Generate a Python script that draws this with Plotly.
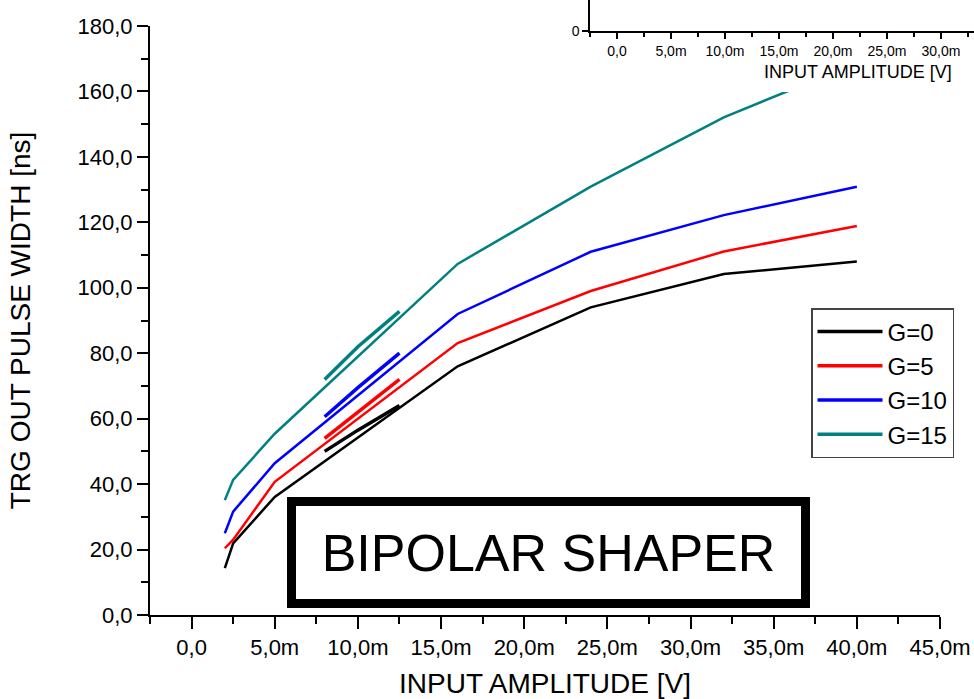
import plotly.graph_objects as go

# Input amplitude (V) of the sweep points
x_main = [0.002, 0.0025, 0.005, 0.016, 0.024, 0.032, 0.040]
x_fine = [0.008, 0.010, 0.0125]

# TRG OUT pulse width (ns) per gain setting
g0_main = [14.3, 21.9, 36.1, 76.0, 94.0, 104.2, 108.0]
g0_fine = [50.0, 56.5, 64.0]
g5_main = [20.4, 23.0, 40.7, 83.1, 99.0, 111.1, 118.9]
g5_fine = [54.0, 62.0, 72.0]
g10_main = [25.0, 31.6, 46.4, 92.0, 111.0, 122.2, 130.9]
g10_fine = [60.6, 69.5, 80.0]
g15_main = [35.1, 41.3, 55.4, 107.3, 130.9, 152.1, 168.7]
g15_fine = [72.0, 82.0, 92.8]

series_names = ["G=0", "G=5", "G=10", "G=15"]
series_colors = ["#000000", "#ff0000", "#0000ff", "#008080"]

# Axis ticks
x_tick_vals = [0.0, 0.005, 0.010, 0.015, 0.020, 0.025, 0.030, 0.035, 0.040, 0.045]
x_tick_text = ["0,0", "5,0m", "10,0m", "15,0m", "20,0m", "25,0m", "30,0m", "35,0m", "40,0m", "45,0m"]
y_tick_vals = [0, 20, 40, 60, 80, 100, 120, 140, 160, 180]
y_tick_text = ["0,0", "20,0", "40,0", "60,0", "80,0", "100,0", "120,0", "140,0", "160,0", "180,0"]

inset_x_tick_vals = [0.0, 0.005, 0.010, 0.015, 0.020, 0.025, 0.030]
inset_x_tick_text = ["0,0", "5,0m", "10,0m", "15,0m", "20,0m", "25,0m", "30,0m"]
inset_y_tick_vals = [0]
inset_y_tick_text = ["0"]

FONT = "Liberation Sans, Arial, sans-serif"
W, H = 974, 699


def px_x(p):
    return p / W


def px_y(p):
    return 1 - p / H


fig = go.Figure()

mains = [g0_main, g5_main, g10_main, g15_main]
fines = [g0_fine, g5_fine, g10_fine, g15_fine]
for name, color, ym, yf in zip(series_names, series_colors, mains, fines):
    fig.add_trace(go.Scatter(
        x=x_main, y=ym, mode="lines", name=name,
        showlegend=False, line=dict(color=color, width=2.5),
    ))
    fig.add_trace(go.Scatter(
        x=x_fine, y=yf, mode="lines", name=name,
        line=dict(color=color, width=3.5),
    ))

# blank white panel behind the inset graph
fig.add_trace(go.Scatter(x=[], y=[], xaxis="x2", yaxis="y2",
                         showlegend=False, hoverinfo="skip"))
# inset graph axes
fig.add_trace(go.Scatter(x=[], y=[], xaxis="x3", yaxis="y3",
                         showlegend=False, hoverinfo="skip"))

axis_common = dict(
    showline=True, linecolor="black", linewidth=2,
    showgrid=False, zeroline=False, automargin=False,
    ticks="outside", tickcolor="black", tickwidth=2,
    tickfont=dict(family=FONT, size=22, color="black"),
)

fig.update_layout(
    width=W, height=H,
    margin=dict(l=0, r=0, t=0, b=0, pad=0, autoexpand=False),
    paper_bgcolor="white", plot_bgcolor="white",
    font=dict(family=FONT, color="black"),
    showlegend=True,
    legend=dict(
        x=px_x(811), y=px_y(308), xanchor="left", yanchor="top",
        bordercolor="#444444", borderwidth=1.5, bgcolor="white",
        font=dict(family=FONT, size=24, color="black"),
        itemwidth=65, tracegroupgap=0,
    ),
    xaxis=dict(
        domain=[px_x(150), px_x(940)], range=[-0.0025, 0.045],
        anchor="y",
        tickmode="array", tickvals=x_tick_vals, ticktext=x_tick_text, ticklen=12,
        minor=dict(ticks="outside", ticklen=7, tickwidth=2, tickcolor="black",
                   tick0=-0.0025, dtick=0.005),
        title=dict(text="INPUT AMPLITUDE [V]", standoff=22,
                   font=dict(family=FONT, size=28, color="black")),
        **axis_common,
    ),
    yaxis=dict(
        domain=[px_y(615), px_y(26)], range=[0, 180],
        anchor="x",
        tickmode="array", tickvals=y_tick_vals, ticktext=y_tick_text, ticklen=11,
        minor=dict(ticks="outside", ticklen=7, tickwidth=2, tickcolor="black",
                   tick0=0, dtick=10),
        title=dict(text="TRG OUT PULSE WIDTH [ns]", standoff=39,
                   font=dict(family=FONT, size=28, color="black")),
        **axis_common,
    ),
    xaxis2=dict(domain=[px_x(553), 1.0], anchor="y2", visible=False,
                range=[0, 1], automargin=False),
    yaxis2=dict(domain=[px_y(92), 1.0], anchor="x2", visible=False,
                range=[0, 1], automargin=False),
    xaxis3=dict(
        domain=[px_x(590), 1.0], range=[-0.0025, 0.03306], anchor="y3",
        showline=True, linecolor="black", linewidth=1.5,
        showgrid=False, zeroline=False, automargin=False,
        ticks="outside", tickcolor="black", tickwidth=1.5, ticklen=6,
        tickmode="array", tickvals=inset_x_tick_vals, ticktext=inset_x_tick_text,
        tickfont=dict(family=FONT, size=14, color="black"),
        minor=dict(ticks="outside", ticklen=4, tickwidth=1.5, tickcolor="black",
                   tick0=-0.0025, dtick=0.005),
    ),
    yaxis3=dict(
        domain=[px_y(31), 1.0], range=[0, 1], anchor="x3",
        showline=True, linecolor="black", linewidth=1.5,
        showgrid=False, zeroline=False, automargin=False,
        ticks="outside", tickcolor="black", tickwidth=1.5, ticklen=6,
        tickmode="array", tickvals=inset_y_tick_vals, ticktext=inset_y_tick_text,
        tickfont=dict(family=FONT, size=14, color="black"),
    ),
    annotations=[
        dict(
            text="INPUT AMPLITUDE [V]", xref="paper", yref="paper",
            x=px_x(858), y=px_y(72), xanchor="center", yanchor="middle",
            showarrow=False, font=dict(family=FONT, size=18, color="black"),
        ),
        dict(
            text="BIPOLAR SHAPER", xref="paper", yref="paper",
            x=px_x(548.5), y=px_y(552.5), xanchor="center", yanchor="middle",
            showarrow=False, font=dict(family=FONT, size=52, color="black"),
            bordercolor="black", borderwidth=9, borderpad=0,
            width=505, height=93, bgcolor="white",
        ),
    ],
)

fig.write_html("out.html")
